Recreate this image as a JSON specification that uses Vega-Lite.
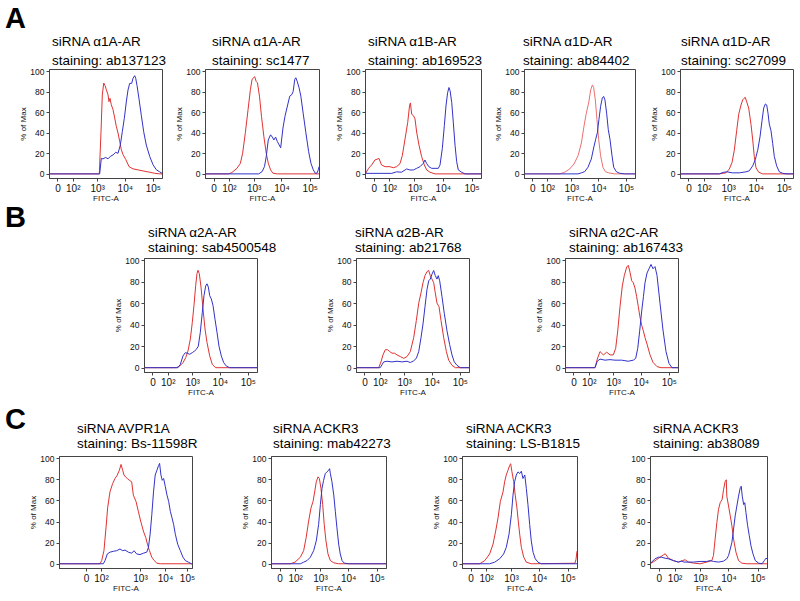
{
"$schema": "https://vega.github.io/schema/vega-lite/v6.json",
"background": "white",
"padding": {"left": 5, "top": 5, "right": 5, "bottom": 5},
"spacing": 0,
"resolve": {"scale": {"color": "independent"}},
"datasets": {"flow": [
{"panel":"A1","trace":"siRNA","fitc":-35,"pct":0},{"panel":"A1","trace":"siRNA","fitc":1200,"pct":0},{"panel":"A1","trace":"siRNA","fitc":1384,"pct":41},{"panel":"A1","trace":"siRNA","fitc":1545,"pct":76.7},{"panel":"A1","trace":"siRNA","fitc":1740,"pct":88.3},{"panel":"A1","trace":"siRNA","fitc":1936,"pct":86},{"panel":"A1","trace":"siRNA","fitc":2160,"pct":81.9},{"panel":"A1","trace":"siRNA","fitc":2488,"pct":77},{"panel":"A1","trace":"siRNA","fitc":2704,"pct":70.2},{"panel":"A1","trace":"siRNA","fitc":2939,"pct":73.5},{"panel":"A1","trace":"siRNA","fitc":3270,"pct":67.3},{"panel":"A1","trace":"siRNA","fitc":3770,"pct":62.5},{"panel":"A1","trace":"siRNA","fitc":4340,"pct":54.4},{"panel":"A1","trace":"siRNA","fitc":4950,"pct":46.3},{"panel":"A1","trace":"siRNA","fitc":5700,"pct":39.8},{"panel":"A1","trace":"siRNA","fitc":6560,"pct":31.7},{"panel":"A1","trace":"siRNA","fitc":7490,"pct":23.6},{"panel":"A1","trace":"siRNA","fitc":8610,"pct":18.8},{"panel":"A1","trace":"siRNA","fitc":10880,"pct":13.9},{"panel":"A1","trace":"siRNA","fitc":14120,"pct":7.1},{"panel":"A1","trace":"siRNA","fitc":19620,"pct":4.9},{"panel":"A1","trace":"siRNA","fitc":29580,"pct":3.9},{"panel":"A1","trace":"siRNA","fitc":44570,"pct":2.9},{"panel":"A1","trace":"siRNA","fitc":77300,"pct":1.6},{"panel":"A1","trace":"siRNA","fitc":116500,"pct":0.6},{"panel":"A1","trace":"siRNA","fitc":176000,"pct":0},{"panel":"A1","trace":"siRNA","fitc":212000,"pct":0},
{"panel":"A1","trace":"control","fitc":-35,"pct":0},{"panel":"A1","trace":"control","fitc":1237,"pct":0},{"panel":"A1","trace":"control","fitc":1420,"pct":15},{"panel":"A1","trace":"control","fitc":1637,"pct":14.6},{"panel":"A1","trace":"control","fitc":2050,"pct":16},{"panel":"A1","trace":"control","fitc":2488,"pct":14.6},{"panel":"A1","trace":"control","fitc":3010,"pct":17},{"panel":"A1","trace":"control","fitc":3770,"pct":18.4},{"panel":"A1","trace":"control","fitc":4720,"pct":21},{"panel":"A1","trace":"control","fitc":5700,"pct":20},{"panel":"A1","trace":"control","fitc":6900,"pct":28},{"panel":"A1","trace":"control","fitc":8130,"pct":41},{"panel":"A1","trace":"control","fitc":9600,"pct":54},{"panel":"A1","trace":"control","fitc":11300,"pct":70},{"panel":"A1","trace":"control","fitc":13000,"pct":81.6},{"panel":"A1","trace":"control","fitc":14950,"pct":88},{"panel":"A1","trace":"control","fitc":17600,"pct":88},{"panel":"A1","trace":"control","fitc":19620,"pct":93},{"panel":"A1","trace":"control","fitc":22550,"pct":95.5},{"panel":"A1","trace":"control","fitc":24500,"pct":93},{"panel":"A1","trace":"control","fitc":27250,"pct":86},{"panel":"A1","trace":"control","fitc":32100,"pct":73},{"panel":"A1","trace":"control","fitc":38800,"pct":57},{"panel":"A1","trace":"control","fitc":47200,"pct":41},{"panel":"A1","trace":"control","fitc":58500,"pct":28},{"panel":"A1","trace":"control","fitc":77300,"pct":17},{"panel":"A1","trace":"control","fitc":101300,"pct":9},{"panel":"A1","trace":"control","fitc":133000,"pct":4},{"panel":"A1","trace":"control","fitc":176000,"pct":2},{"panel":"A1","trace":"control","fitc":212000,"pct":0.6},
{"panel":"A2","trace":"siRNA","fitc":-35,"pct":0},{"panel":"A2","trace":"siRNA","fitc":95,"pct":0},{"panel":"A2","trace":"siRNA","fitc":138,"pct":1.3},{"panel":"A2","trace":"siRNA","fitc":230,"pct":5.5},{"panel":"A2","trace":"siRNA","fitc":313,"pct":10},{"panel":"A2","trace":"siRNA","fitc":386,"pct":20},{"panel":"A2","trace":"siRNA","fitc":492,"pct":40},{"panel":"A2","trace":"siRNA","fitc":623,"pct":62.5},{"panel":"A2","trace":"siRNA","fitc":762,"pct":82},{"panel":"A2","trace":"siRNA","fitc":880,"pct":92},{"panel":"A2","trace":"siRNA","fitc":1100,"pct":94.5},{"panel":"A2","trace":"siRNA","fitc":1240,"pct":90},{"panel":"A2","trace":"siRNA","fitc":1384,"pct":88.6},{"panel":"A2","trace":"siRNA","fitc":1637,"pct":75.6},{"panel":"A2","trace":"siRNA","fitc":1936,"pct":56},{"panel":"A2","trace":"siRNA","fitc":2350,"pct":36.5},{"panel":"A2","trace":"siRNA","fitc":2870,"pct":20},{"panel":"A2","trace":"siRNA","fitc":3390,"pct":10.4},{"panel":"A2","trace":"siRNA","fitc":4096,"pct":3.9},{"panel":"A2","trace":"siRNA","fitc":4950,"pct":0.7},{"panel":"A2","trace":"siRNA","fitc":7100,"pct":0},{"panel":"A2","trace":"siRNA","fitc":212000,"pct":0},
{"panel":"A2","trace":"control","fitc":-35,"pct":0},{"panel":"A2","trace":"control","fitc":1545,"pct":0},{"panel":"A2","trace":"control","fitc":2050,"pct":2.3},{"panel":"A2","trace":"control","fitc":2488,"pct":7.2},{"panel":"A2","trace":"control","fitc":2870,"pct":17},{"panel":"A2","trace":"control","fitc":3390,"pct":33},{"panel":"A2","trace":"control","fitc":4096,"pct":38},{"panel":"A2","trace":"control","fitc":4720,"pct":35.8},{"panel":"A2","trace":"control","fitc":5380,"pct":33},{"panel":"A2","trace":"control","fitc":6192,"pct":35.8},{"panel":"A2","trace":"control","fitc":7100,"pct":31.6},{"panel":"A2","trace":"control","fitc":9350,"pct":25.4},{"panel":"A2","trace":"control","fitc":11300,"pct":44.6},{"panel":"A2","trace":"control","fitc":13300,"pct":56},{"panel":"A2","trace":"control","fitc":16200,"pct":66},{"panel":"A2","trace":"control","fitc":19620,"pct":75.6},{"panel":"A2","trace":"control","fitc":23120,"pct":77},{"panel":"A2","trace":"control","fitc":25800,"pct":80},{"panel":"A2","trace":"control","fitc":29580,"pct":92},{"panel":"A2","trace":"control","fitc":32100,"pct":93.5},{"panel":"A2","trace":"control","fitc":36000,"pct":90},{"panel":"A2","trace":"control","fitc":42000,"pct":83.7},{"panel":"A2","trace":"control","fitc":48400,"pct":75.6},{"panel":"A2","trace":"control","fitc":58500,"pct":59},{"panel":"A2","trace":"control","fitc":72960,"pct":40},{"panel":"A2","trace":"control","fitc":91000,"pct":21.8},{"panel":"A2","trace":"control","fitc":110000,"pct":10.4},{"panel":"A2","trace":"control","fitc":133000,"pct":3.9},{"panel":"A2","trace":"control","fitc":156000,"pct":0.7},{"panel":"A2","trace":"control","fitc":180000,"pct":0.7},{"panel":"A2","trace":"control","fitc":200000,"pct":3.9},{"panel":"A2","trace":"control","fitc":212000,"pct":7},
{"panel":"A3","trace":"siRNA","fitc":-38,"pct":0},{"panel":"A3","trace":"siRNA","fitc":-20,"pct":5.4},{"panel":"A3","trace":"siRNA","fitc":-7,"pct":8.7},{"panel":"A3","trace":"siRNA","fitc":4,"pct":13.5},{"panel":"A3","trace":"siRNA","fitc":21,"pct":15},{"panel":"A3","trace":"siRNA","fitc":35,"pct":8.7},{"panel":"A3","trace":"siRNA","fitc":59,"pct":7},{"panel":"A3","trace":"siRNA","fitc":108,"pct":7},{"panel":"A3","trace":"siRNA","fitc":152,"pct":6},{"panel":"A3","trace":"siRNA","fitc":210,"pct":7},{"panel":"A3","trace":"siRNA","fitc":288,"pct":10},{"panel":"A3","trace":"siRNA","fitc":356,"pct":18},{"panel":"A3","trace":"siRNA","fitc":450,"pct":34},{"panel":"A3","trace":"siRNA","fitc":567,"pct":50},{"panel":"A3","trace":"siRNA","fitc":661,"pct":66},{"panel":"A3","trace":"siRNA","fitc":711,"pct":69},{"panel":"A3","trace":"siRNA","fitc":795,"pct":58},{"panel":"A3","trace":"siRNA","fitc":912,"pct":56.7},{"panel":"A3","trace":"siRNA","fitc":1047,"pct":53.5},{"panel":"A3","trace":"siRNA","fitc":1200,"pct":40.7},{"panel":"A3","trace":"siRNA","fitc":1456,"pct":27.9},{"panel":"A3","trace":"siRNA","fitc":1810,"pct":16.7},{"panel":"A3","trace":"siRNA","fitc":2250,"pct":8.7},{"panel":"A3","trace":"siRNA","fitc":2730,"pct":3.8},{"panel":"A3","trace":"siRNA","fitc":3560,"pct":1.6},{"panel":"A3","trace":"siRNA","fitc":5330,"pct":0},{"panel":"A3","trace":"siRNA","fitc":212000,"pct":0},
{"panel":"A3","trace":"control","fitc":-39,"pct":55},{"panel":"A3","trace":"control","fitc":-36,"pct":0},{"panel":"A3","trace":"control","fitc":-33,"pct":0.5},{"panel":"A3","trace":"control","fitc":129,"pct":0.5},{"panel":"A3","trace":"control","fitc":210,"pct":2},{"panel":"A3","trace":"control","fitc":330,"pct":1.6},{"panel":"A3","trace":"control","fitc":520,"pct":4.8},{"panel":"A3","trace":"control","fitc":680,"pct":3.8},{"panel":"A3","trace":"control","fitc":912,"pct":3.8},{"panel":"A3","trace":"control","fitc":1200,"pct":5.4},{"panel":"A3","trace":"control","fitc":1580,"pct":7},{"panel":"A3","trace":"control","fitc":2070,"pct":10.3},{"panel":"A3","trace":"control","fitc":2370,"pct":13.5},{"panel":"A3","trace":"control","fitc":2730,"pct":10},{"panel":"A3","trace":"control","fitc":3250,"pct":7},{"panel":"A3","trace":"control","fitc":4060,"pct":5.4},{"panel":"A3","trace":"control","fitc":5330,"pct":5.4},{"panel":"A3","trace":"control","fitc":6960,"pct":5.4},{"panel":"A3","trace":"control","fitc":7990,"pct":8.7},{"panel":"A3","trace":"control","fitc":9600,"pct":24.7},{"panel":"A3","trace":"control","fitc":11300,"pct":47},{"panel":"A3","trace":"control","fitc":12880,"pct":66},{"panel":"A3","trace":"control","fitc":14700,"pct":79},{"panel":"A3","trace":"control","fitc":16350,"pct":84},{"panel":"A3","trace":"control","fitc":17900,"pct":80.8},{"panel":"A3","trace":"control","fitc":20400,"pct":69.5},{"panel":"A3","trace":"control","fitc":23120,"pct":50.3},{"panel":"A3","trace":"control","fitc":26600,"pct":27.9},{"panel":"A3","trace":"control","fitc":30300,"pct":11.9},{"panel":"A3","trace":"control","fitc":34600,"pct":3.8},{"panel":"A3","trace":"control","fitc":45200,"pct":1.6},{"panel":"A3","trace":"control","fitc":59000,"pct":0},{"panel":"A3","trace":"control","fitc":212000,"pct":0},
{"panel":"A4","trace":"siRNA","fitc":-35,"pct":0},{"panel":"A4","trace":"siRNA","fitc":353,"pct":0},{"panel":"A4","trace":"siRNA","fitc":558,"pct":1.6},{"panel":"A4","trace":"siRNA","fitc":866,"pct":4.8},{"panel":"A4","trace":"siRNA","fitc":1260,"pct":9.6},{"panel":"A4","trace":"siRNA","fitc":1781,"pct":17.6},{"panel":"A4","trace":"siRNA","fitc":2370,"pct":30},{"panel":"A4","trace":"siRNA","fitc":2960,"pct":46.5},{"panel":"A4","trace":"siRNA","fitc":3590,"pct":59},{"panel":"A4","trace":"siRNA","fitc":4380,"pct":69},{"panel":"A4","trace":"siRNA","fitc":5210,"pct":81.7},{"panel":"A4","trace":"siRNA","fitc":5990,"pct":86.5},{"panel":"A4","trace":"siRNA","fitc":6670,"pct":84},{"panel":"A4","trace":"siRNA","fitc":7680,"pct":72},{"panel":"A4","trace":"siRNA","fitc":8810,"pct":53},{"panel":"A4","trace":"siRNA","fitc":10150,"pct":33.7},{"panel":"A4","trace":"siRNA","fitc":11970,"pct":17.6},{"panel":"A4","trace":"siRNA","fitc":14550,"pct":6.4},{"panel":"A4","trace":"siRNA","fitc":17750,"pct":2.2},{"panel":"A4","trace":"siRNA","fitc":23500,"pct":1},{"panel":"A4","trace":"siRNA","fitc":38800,"pct":0},{"panel":"A4","trace":"siRNA","fitc":212000,"pct":0},
{"panel":"A4","trace":"control","fitc":-35,"pct":0},{"panel":"A4","trace":"control","fitc":1781,"pct":0},{"panel":"A4","trace":"control","fitc":2370,"pct":1},{"panel":"A4","trace":"control","fitc":3140,"pct":2.2},{"panel":"A4","trace":"control","fitc":4130,"pct":6.4},{"panel":"A4","trace":"control","fitc":5470,"pct":14.4},{"panel":"A4","trace":"control","fitc":6900,"pct":27},{"panel":"A4","trace":"control","fitc":7930,"pct":33.7},{"panel":"A4","trace":"control","fitc":9100,"pct":40},{"panel":"A4","trace":"control","fitc":10400,"pct":53},{"panel":"A4","trace":"control","fitc":11970,"pct":65.7},{"panel":"A4","trace":"control","fitc":13780,"pct":73.7},{"panel":"A4","trace":"control","fitc":15450,"pct":75.3},{"panel":"A4","trace":"control","fitc":17200,"pct":72},{"panel":"A4","trace":"control","fitc":19800,"pct":59},{"panel":"A4","trace":"control","fitc":22750,"pct":43},{"panel":"A4","trace":"control","fitc":26200,"pct":33.7},{"panel":"A4","trace":"control","fitc":31100,"pct":17.6},{"panel":"A4","trace":"control","fitc":35800,"pct":6.4},{"panel":"A4","trace":"control","fitc":44570,"pct":2.2},{"panel":"A4","trace":"control","fitc":59000,"pct":0.6},{"panel":"A4","trace":"control","fitc":89500,"pct":0},{"panel":"A4","trace":"control","fitc":212000,"pct":0},
{"panel":"A5","trace":"siRNA","fitc":-35,"pct":0},{"panel":"A5","trace":"siRNA","fitc":462,"pct":0},{"panel":"A5","trace":"siRNA","fitc":830,"pct":1},{"panel":"A5","trace":"siRNA","fitc":1100,"pct":4.7},{"panel":"A5","trace":"siRNA","fitc":1384,"pct":11},{"panel":"A5","trace":"siRNA","fitc":1680,"pct":23},{"panel":"A5","trace":"siRNA","fitc":2050,"pct":42},{"panel":"A5","trace":"siRNA","fitc":2430,"pct":58},{"panel":"A5","trace":"siRNA","fitc":2939,"pct":67},{"panel":"A5","trace":"siRNA","fitc":3390,"pct":72},{"panel":"A5","trace":"siRNA","fitc":3770,"pct":73.5},{"panel":"A5","trace":"siRNA","fitc":4190,"pct":74.4},{"panel":"A5","trace":"siRNA","fitc":4720,"pct":70},{"panel":"A5","trace":"siRNA","fitc":5560,"pct":64},{"panel":"A5","trace":"siRNA","fitc":6726,"pct":48},{"panel":"A5","trace":"siRNA","fitc":7750,"pct":33},{"panel":"A5","trace":"siRNA","fitc":8810,"pct":17},{"panel":"A5","trace":"siRNA","fitc":10150,"pct":6},{"panel":"A5","trace":"siRNA","fitc":12700,"pct":1.6},{"panel":"A5","trace":"siRNA","fitc":17600,"pct":0},{"panel":"A5","trace":"siRNA","fitc":212000,"pct":0},
{"panel":"A5","trace":"control","fitc":-35,"pct":0},{"panel":"A5","trace":"control","fitc":462,"pct":0},{"panel":"A5","trace":"control","fitc":656,"pct":1.5},{"panel":"A5","trace":"control","fitc":880,"pct":2},{"panel":"A5","trace":"control","fitc":1470,"pct":1},{"panel":"A5","trace":"control","fitc":2550,"pct":1},{"panel":"A5","trace":"control","fitc":4450,"pct":2},{"panel":"A5","trace":"control","fitc":5850,"pct":3},{"panel":"A5","trace":"control","fitc":7750,"pct":7.8},{"panel":"A5","trace":"control","fitc":9600,"pct":14},{"panel":"A5","trace":"control","fitc":11670,"pct":23},{"panel":"A5","trace":"control","fitc":14120,"pct":36},{"panel":"A5","trace":"control","fitc":16640,"pct":51.6},{"panel":"A5","trace":"control","fitc":19100,"pct":64},{"panel":"A5","trace":"control","fitc":21950,"pct":68},{"panel":"A5","trace":"control","fitc":24500,"pct":67},{"panel":"A5","trace":"control","fitc":27250,"pct":59},{"panel":"A5","trace":"control","fitc":30300,"pct":48.4},{"panel":"A5","trace":"control","fitc":34840,"pct":42},{"panel":"A5","trace":"control","fitc":40000,"pct":29.7},{"panel":"A5","trace":"control","fitc":45700,"pct":17},{"panel":"A5","trace":"control","fitc":55500,"pct":7.8},{"panel":"A5","trace":"control","fitc":69000,"pct":2},{"panel":"A5","trace":"control","fitc":91000,"pct":0.6},{"panel":"A5","trace":"control","fitc":119400,"pct":0},{"panel":"A5","trace":"control","fitc":212000,"pct":0},
{"panel":"B1","trace":"siRNA","fitc":-35,"pct":0},{"panel":"B1","trace":"siRNA","fitc":243,"pct":0},{"panel":"B1","trace":"siRNA","fitc":335,"pct":1.6},{"panel":"B1","trace":"siRNA","fitc":450,"pct":4.7},{"panel":"B1","trace":"siRNA","fitc":572,"pct":9.4},{"panel":"B1","trace":"siRNA","fitc":698,"pct":15.6},{"panel":"B1","trace":"siRNA","fitc":855,"pct":26.6},{"panel":"B1","trace":"siRNA","fitc":1010,"pct":42},{"panel":"B1","trace":"siRNA","fitc":1168,"pct":58},{"panel":"B1","trace":"siRNA","fitc":1350,"pct":76.6},{"panel":"B1","trace":"siRNA","fitc":1505,"pct":87.5},{"panel":"B1","trace":"siRNA","fitc":1637,"pct":90.6},{"panel":"B1","trace":"siRNA","fitc":1825,"pct":87.5},{"panel":"B1","trace":"siRNA","fitc":2106,"pct":75},{"panel":"B1","trace":"siRNA","fitc":2488,"pct":54.7},{"panel":"B1","trace":"siRNA","fitc":2939,"pct":36},{"panel":"B1","trace":"siRNA","fitc":3470,"pct":23.4},{"panel":"B1","trace":"siRNA","fitc":4340,"pct":11},{"panel":"B1","trace":"siRNA","fitc":5380,"pct":3},{"panel":"B1","trace":"siRNA","fitc":7100,"pct":0},{"panel":"B1","trace":"siRNA","fitc":212000,"pct":0},
{"panel":"B1","trace":"control","fitc":-35,"pct":0},{"panel":"B1","trace":"control","fitc":285,"pct":0},{"panel":"B1","trace":"control","fitc":353,"pct":3},{"panel":"B1","trace":"control","fitc":450,"pct":11},{"panel":"B1","trace":"control","fitc":553,"pct":14},{"panel":"B1","trace":"control","fitc":656,"pct":13.4},{"panel":"B1","trace":"control","fitc":808,"pct":12.5},{"panel":"B1","trace":"control","fitc":1010,"pct":14},{"panel":"B1","trace":"control","fitc":1237,"pct":15.6},{"panel":"B1","trace":"control","fitc":1420,"pct":17},{"panel":"B1","trace":"control","fitc":1680,"pct":20},{"panel":"B1","trace":"control","fitc":1990,"pct":33},{"panel":"B1","trace":"control","fitc":2350,"pct":51.6},{"panel":"B1","trace":"control","fitc":2704,"pct":67},{"panel":"B1","trace":"control","fitc":3110,"pct":76},{"panel":"B1","trace":"control","fitc":3470,"pct":78},{"panel":"B1","trace":"control","fitc":3870,"pct":75},{"panel":"B1","trace":"control","fitc":4340,"pct":67},{"panel":"B1","trace":"control","fitc":4950,"pct":64},{"panel":"B1","trace":"control","fitc":5700,"pct":58},{"panel":"B1","trace":"control","fitc":6726,"pct":45},{"panel":"B1","trace":"control","fitc":7930,"pct":33},{"panel":"B1","trace":"control","fitc":9350,"pct":20},{"panel":"B1","trace":"control","fitc":11300,"pct":11},{"panel":"B1","trace":"control","fitc":13780,"pct":4.7},{"panel":"B1","trace":"control","fitc":17000,"pct":1.6},{"panel":"B1","trace":"control","fitc":22550,"pct":0},{"panel":"B1","trace":"control","fitc":212000,"pct":0},
{"panel":"B2","trace":"siRNA","fitc":-34,"pct":0},{"panel":"B2","trace":"siRNA","fitc":89,"pct":0},{"panel":"B2","trace":"siRNA","fitc":115,"pct":5.4},{"panel":"B2","trace":"siRNA","fitc":143,"pct":11.9},{"panel":"B2","trace":"siRNA","fitc":181,"pct":16.7},{"panel":"B2","trace":"siRNA","fitc":228,"pct":16.7},{"panel":"B2","trace":"siRNA","fitc":276,"pct":15},{"panel":"B2","trace":"siRNA","fitc":343,"pct":13.5},{"panel":"B2","trace":"siRNA","fitc":425,"pct":13.5},{"panel":"B2","trace":"siRNA","fitc":538,"pct":11.9},{"panel":"B2","trace":"siRNA","fitc":718,"pct":10.3},{"panel":"B2","trace":"siRNA","fitc":960,"pct":8.7},{"panel":"B2","trace":"siRNA","fitc":1271,"pct":10.3},{"panel":"B2","trace":"siRNA","fitc":1680,"pct":15},{"panel":"B2","trace":"siRNA","fitc":2230,"pct":27.9},{"panel":"B2","trace":"siRNA","fitc":2780,"pct":43.9},{"panel":"B2","trace":"siRNA","fitc":3390,"pct":60},{"panel":"B2","trace":"siRNA","fitc":4096,"pct":69.6},{"panel":"B2","trace":"siRNA","fitc":4834,"pct":79},{"panel":"B2","trace":"siRNA","fitc":5700,"pct":85.6},{"panel":"B2","trace":"siRNA","fitc":6726,"pct":89.4},{"panel":"B2","trace":"siRNA","fitc":7750,"pct":90.4},{"panel":"B2","trace":"siRNA","fitc":8810,"pct":85.6},{"panel":"B2","trace":"siRNA","fitc":10150,"pct":82.4},{"panel":"B2","trace":"siRNA","fitc":11670,"pct":79},{"panel":"B2","trace":"siRNA","fitc":13300,"pct":69.6},{"panel":"B2","trace":"siRNA","fitc":15330,"pct":60},{"panel":"B2","trace":"siRNA","fitc":18070,"pct":56.7},{"panel":"B2","trace":"siRNA","fitc":21300,"pct":43.9},{"panel":"B2","trace":"siRNA","fitc":26600,"pct":27.9},{"panel":"B2","trace":"siRNA","fitc":33100,"pct":15},{"panel":"B2","trace":"siRNA","fitc":40000,"pct":7},{"panel":"B2","trace":"siRNA","fitc":52520,"pct":2.2},{"panel":"B2","trace":"siRNA","fitc":69000,"pct":0},{"panel":"B2","trace":"siRNA","fitc":212000,"pct":0},
{"panel":"B2","trace":"control","fitc":-34,"pct":0},{"panel":"B2","trace":"control","fitc":106,"pct":0},{"panel":"B2","trace":"control","fitc":154,"pct":5.4},{"panel":"B2","trace":"control","fitc":214,"pct":6},{"panel":"B2","trace":"control","fitc":343,"pct":5.4},{"panel":"B2","trace":"control","fitc":538,"pct":6},{"panel":"B2","trace":"control","fitc":830,"pct":5.4},{"panel":"B2","trace":"control","fitc":1271,"pct":6},{"panel":"B2","trace":"control","fitc":1680,"pct":4.8},{"panel":"B2","trace":"control","fitc":2230,"pct":6.4},{"panel":"B2","trace":"control","fitc":2780,"pct":8.7},{"panel":"B2","trace":"control","fitc":3390,"pct":15},{"panel":"B2","trace":"control","fitc":4096,"pct":27.9},{"panel":"B2","trace":"control","fitc":4834,"pct":40.7},{"panel":"B2","trace":"control","fitc":5700,"pct":56.7},{"panel":"B2","trace":"control","fitc":6726,"pct":72.8},{"panel":"B2","trace":"control","fitc":7750,"pct":80.8},{"panel":"B2","trace":"control","fitc":8810,"pct":82.4},{"panel":"B2","trace":"control","fitc":10150,"pct":87},{"panel":"B2","trace":"control","fitc":11670,"pct":90.4},{"panel":"B2","trace":"control","fitc":13300,"pct":85.6},{"panel":"B2","trace":"control","fitc":15330,"pct":82.4},{"panel":"B2","trace":"control","fitc":17000,"pct":85.6},{"panel":"B2","trace":"control","fitc":19100,"pct":80.8},{"panel":"B2","trace":"control","fitc":23120,"pct":66},{"panel":"B2","trace":"control","fitc":27950,"pct":50.3},{"panel":"B2","trace":"control","fitc":34840,"pct":34.3},{"panel":"B2","trace":"control","fitc":43300,"pct":21.5},{"panel":"B2","trace":"control","fitc":52520,"pct":11.9},{"panel":"B2","trace":"control","fitc":63300,"pct":5.4},{"panel":"B2","trace":"control","fitc":79200,"pct":2.2},{"panel":"B2","trace":"control","fitc":104000,"pct":0},{"panel":"B2","trace":"control","fitc":212000,"pct":0},
{"panel":"B3","trace":"siRNA","fitc":-35,"pct":0},{"panel":"B3","trace":"siRNA","fitc":194,"pct":0},{"panel":"B3","trace":"siRNA","fitc":243,"pct":8},{"panel":"B3","trace":"siRNA","fitc":313,"pct":15},{"panel":"B3","trace":"siRNA","fitc":425,"pct":11.9},{"panel":"B3","trace":"siRNA","fitc":572,"pct":14.4},{"panel":"B3","trace":"siRNA","fitc":762,"pct":11.9},{"panel":"B3","trace":"siRNA","fitc":1010,"pct":11.9},{"panel":"B3","trace":"siRNA","fitc":1237,"pct":18},{"panel":"B3","trace":"siRNA","fitc":1470,"pct":34},{"panel":"B3","trace":"siRNA","fitc":1781,"pct":56.7},{"panel":"B3","trace":"siRNA","fitc":2160,"pct":76},{"panel":"B3","trace":"siRNA","fitc":2550,"pct":85.6},{"panel":"B3","trace":"siRNA","fitc":3110,"pct":93.6},{"panel":"B3","trace":"siRNA","fitc":3560,"pct":95.2},{"panel":"B3","trace":"siRNA","fitc":4096,"pct":88.8},{"panel":"B3","trace":"siRNA","fitc":4720,"pct":80.8},{"panel":"B3","trace":"siRNA","fitc":5380,"pct":79},{"panel":"B3","trace":"siRNA","fitc":6192,"pct":74},{"panel":"B3","trace":"siRNA","fitc":7100,"pct":66},{"panel":"B3","trace":"siRNA","fitc":8130,"pct":56.7},{"panel":"B3","trace":"siRNA","fitc":9350,"pct":47},{"panel":"B3","trace":"siRNA","fitc":10850,"pct":39},{"panel":"B3","trace":"siRNA","fitc":12400,"pct":34},{"panel":"B3","trace":"siRNA","fitc":14120,"pct":28},{"panel":"B3","trace":"siRNA","fitc":16640,"pct":22},{"panel":"B3","trace":"siRNA","fitc":21300,"pct":12},{"panel":"B3","trace":"siRNA","fitc":27250,"pct":5},{"panel":"B3","trace":"siRNA","fitc":37820,"pct":1},{"panel":"B3","trace":"siRNA","fitc":52520,"pct":0},{"panel":"B3","trace":"siRNA","fitc":212000,"pct":0},
{"panel":"B3","trace":"control","fitc":-35,"pct":0},{"panel":"B3","trace":"control","fitc":194,"pct":0},{"panel":"B3","trace":"control","fitc":243,"pct":6},{"panel":"B3","trace":"control","fitc":313,"pct":8},{"panel":"B3","trace":"control","fitc":492,"pct":7},{"panel":"B3","trace":"control","fitc":762,"pct":7.5},{"panel":"B3","trace":"control","fitc":1168,"pct":7},{"panel":"B3","trace":"control","fitc":2050,"pct":7},{"panel":"B3","trace":"control","fitc":3560,"pct":6},{"panel":"B3","trace":"control","fitc":5380,"pct":7},{"panel":"B3","trace":"control","fitc":6560,"pct":8.7},{"panel":"B3","trace":"control","fitc":7750,"pct":18},{"panel":"B3","trace":"control","fitc":9100,"pct":34},{"panel":"B3","trace":"control","fitc":10850,"pct":53.5},{"panel":"B3","trace":"control","fitc":12400,"pct":66},{"panel":"B3","trace":"control","fitc":14120,"pct":79},{"panel":"B3","trace":"control","fitc":16640,"pct":88},{"panel":"B3","trace":"control","fitc":19620,"pct":92},{"panel":"B3","trace":"control","fitc":23120,"pct":96},{"panel":"B3","trace":"control","fitc":27250,"pct":92},{"panel":"B3","trace":"control","fitc":32100,"pct":94},{"panel":"B3","trace":"control","fitc":37820,"pct":86},{"panel":"B3","trace":"control","fitc":48400,"pct":60},{"panel":"B3","trace":"control","fitc":61900,"pct":35},{"panel":"B3","trace":"control","fitc":79200,"pct":15},{"panel":"B3","trace":"control","fitc":101300,"pct":4},{"panel":"B3","trace":"control","fitc":129600,"pct":0},{"panel":"B3","trace":"control","fitc":212000,"pct":0},
{"panel":"C1","trace":"siRNA","fitc":-190,"pct":0},{"panel":"C1","trace":"siRNA","fitc":89,"pct":0},{"panel":"C1","trace":"siRNA","fitc":105,"pct":3},{"panel":"C1","trace":"siRNA","fitc":123,"pct":12.4},{"panel":"C1","trace":"siRNA","fitc":141,"pct":34},{"panel":"C1","trace":"siRNA","fitc":157,"pct":53},{"panel":"C1","trace":"siRNA","fitc":182,"pct":68},{"panel":"C1","trace":"siRNA","fitc":215,"pct":76},{"panel":"C1","trace":"siRNA","fitc":248,"pct":80.7},{"panel":"C1","trace":"siRNA","fitc":284,"pct":84},{"panel":"C1","trace":"siRNA","fitc":320,"pct":88.5},{"panel":"C1","trace":"siRNA","fitc":352,"pct":94},{"panel":"C1","trace":"siRNA","fitc":387,"pct":88.5},{"panel":"C1","trace":"siRNA","fitc":417,"pct":84},{"panel":"C1","trace":"siRNA","fitc":458,"pct":82},{"panel":"C1","trace":"siRNA","fitc":502,"pct":80.7},{"panel":"C1","trace":"siRNA","fitc":561,"pct":79},{"panel":"C1","trace":"siRNA","fitc":638,"pct":77.6},{"panel":"C1","trace":"siRNA","fitc":698,"pct":65},{"panel":"C1","trace":"siRNA","fitc":806,"pct":59},{"panel":"C1","trace":"siRNA","fitc":914,"pct":49.7},{"panel":"C1","trace":"siRNA","fitc":1065,"pct":40.4},{"panel":"C1","trace":"siRNA","fitc":1372,"pct":31},{"panel":"C1","trace":"siRNA","fitc":1712,"pct":24.8},{"panel":"C1","trace":"siRNA","fitc":2000,"pct":18.6},{"panel":"C1","trace":"siRNA","fitc":2412,"pct":12.4},{"panel":"C1","trace":"siRNA","fitc":3000,"pct":6.2},{"panel":"C1","trace":"siRNA","fitc":3727,"pct":3},{"panel":"C1","trace":"siRNA","fitc":4773,"pct":0.6},{"panel":"C1","trace":"siRNA","fitc":6500,"pct":0},{"panel":"C1","trace":"siRNA","fitc":200000,"pct":0},
{"panel":"C1","trace":"control","fitc":-190,"pct":0},{"panel":"C1","trace":"control","fitc":118,"pct":0},{"panel":"C1","trace":"control","fitc":132,"pct":3},{"panel":"C1","trace":"control","fitc":154,"pct":9.3},{"panel":"C1","trace":"control","fitc":182,"pct":11},{"panel":"C1","trace":"control","fitc":224,"pct":11.8},{"panel":"C1","trace":"control","fitc":273,"pct":12.4},{"panel":"C1","trace":"control","fitc":332,"pct":14},{"panel":"C1","trace":"control","fitc":387,"pct":12.4},{"panel":"C1","trace":"control","fitc":441,"pct":13},{"panel":"C1","trace":"control","fitc":531,"pct":11},{"panel":"C1","trace":"control","fitc":638,"pct":10},{"panel":"C1","trace":"control","fitc":724,"pct":12.4},{"panel":"C1","trace":"control","fitc":837,"pct":9.3},{"panel":"C1","trace":"control","fitc":1000,"pct":8.7},{"panel":"C1","trace":"control","fitc":1372,"pct":10},{"panel":"C1","trace":"control","fitc":1880,"pct":11},{"panel":"C1","trace":"control","fitc":2197,"pct":15.5},{"panel":"C1","trace":"control","fitc":2566,"pct":28},{"panel":"C1","trace":"control","fitc":3000,"pct":46.6},{"panel":"C1","trace":"control","fitc":3500,"pct":68},{"panel":"C1","trace":"control","fitc":4090,"pct":84},{"panel":"C1","trace":"control","fitc":4773,"pct":88.5},{"panel":"C1","trace":"control","fitc":5570,"pct":93},{"panel":"C1","trace":"control","fitc":6108,"pct":95},{"panel":"C1","trace":"control","fitc":6908,"pct":84},{"panel":"C1","trace":"control","fitc":7816,"pct":79},{"panel":"C1","trace":"control","fitc":8832,"pct":80.7},{"panel":"C1","trace":"control","fitc":10350,"pct":73},{"panel":"C1","trace":"control","fitc":12330,"pct":65},{"panel":"C1","trace":"control","fitc":14680,"pct":59},{"panel":"C1","trace":"control","fitc":17480,"pct":49.7},{"panel":"C1","trace":"control","fitc":20820,"pct":43.5},{"panel":"C1","trace":"control","fitc":24780,"pct":37},{"panel":"C1","trace":"control","fitc":29500,"pct":28},{"panel":"C1","trace":"control","fitc":37680,"pct":18.6},{"panel":"C1","trace":"control","fitc":49760,"pct":12.4},{"panel":"C1","trace":"control","fitc":65800,"pct":6.2},{"panel":"C1","trace":"control","fitc":84000,"pct":3},{"panel":"C1","trace":"control","fitc":122600,"pct":1.5},{"panel":"C1","trace":"control","fitc":184400,"pct":0},{"panel":"C1","trace":"control","fitc":200000,"pct":0},
{"panel":"C2","trace":"siRNA","fitc":-34,"pct":0},{"panel":"C2","trace":"siRNA","fitc":55,"pct":0},{"panel":"C2","trace":"siRNA","fitc":98,"pct":1.5},{"panel":"C2","trace":"siRNA","fitc":173,"pct":6.2},{"panel":"C2","trace":"siRNA","fitc":238,"pct":12.4},{"panel":"C2","trace":"siRNA","fitc":300,"pct":24.8},{"panel":"C2","trace":"siRNA","fitc":376,"pct":40.4},{"panel":"C2","trace":"siRNA","fitc":462,"pct":52.8},{"panel":"C2","trace":"siRNA","fitc":553,"pct":59},{"panel":"C2","trace":"siRNA","fitc":635,"pct":68},{"panel":"C2","trace":"siRNA","fitc":730,"pct":77.6},{"panel":"C2","trace":"siRNA","fitc":845,"pct":82.3},{"panel":"C2","trace":"siRNA","fitc":946,"pct":80.7},{"panel":"C2","trace":"siRNA","fitc":1082,"pct":71.4},{"panel":"C2","trace":"siRNA","fitc":1250,"pct":56},{"panel":"C2","trace":"siRNA","fitc":1420,"pct":37.3},{"panel":"C2","trace":"siRNA","fitc":1637,"pct":21.7},{"panel":"C2","trace":"siRNA","fitc":1936,"pct":9.3},{"panel":"C2","trace":"siRNA","fitc":2350,"pct":3},{"panel":"C2","trace":"siRNA","fitc":3110,"pct":0.9},{"panel":"C2","trace":"siRNA","fitc":4630,"pct":0},{"panel":"C2","trace":"siRNA","fitc":212000,"pct":0},
{"panel":"C2","trace":"control","fitc":-34,"pct":0},{"panel":"C2","trace":"control","fitc":173,"pct":0},{"panel":"C2","trace":"control","fitc":238,"pct":1.5},{"panel":"C2","trace":"control","fitc":325,"pct":3},{"panel":"C2","trace":"control","fitc":435,"pct":6.2},{"panel":"C2","trace":"control","fitc":582,"pct":12.4},{"panel":"C2","trace":"control","fitc":730,"pct":21.7},{"panel":"C2","trace":"control","fitc":890,"pct":37.3},{"panel":"C2","trace":"control","fitc":1030,"pct":56},{"panel":"C2","trace":"control","fitc":1180,"pct":71.4},{"panel":"C2","trace":"control","fitc":1350,"pct":79},{"panel":"C2","trace":"control","fitc":1550,"pct":85.4},{"panel":"C2","trace":"control","fitc":1781,"pct":87},{"panel":"C2","trace":"control","fitc":2050,"pct":88.5},{"panel":"C2","trace":"control","fitc":2210,"pct":90},{"panel":"C2","trace":"control","fitc":2350,"pct":85.4},{"panel":"C2","trace":"control","fitc":2680,"pct":77.6},{"panel":"C2","trace":"control","fitc":3110,"pct":65},{"panel":"C2","trace":"control","fitc":3530,"pct":49.7},{"panel":"C2","trace":"control","fitc":4030,"pct":34},{"panel":"C2","trace":"control","fitc":4630,"pct":18.6},{"panel":"C2","trace":"control","fitc":5280,"pct":9.3},{"panel":"C2","trace":"control","fitc":6100,"pct":3},{"panel":"C2","trace":"control","fitc":7300,"pct":0.6},{"panel":"C2","trace":"control","fitc":10400,"pct":0},{"panel":"C2","trace":"control","fitc":212000,"pct":0},
{"panel":"C3","trace":"siRNA","fitc":-34,"pct":0},{"panel":"C3","trace":"siRNA","fitc":44,"pct":0},{"panel":"C3","trace":"siRNA","fitc":85,"pct":3},{"panel":"C3","trace":"siRNA","fitc":146,"pct":9.3},{"panel":"C3","trace":"siRNA","fitc":204,"pct":18.6},{"panel":"C3","trace":"siRNA","fitc":262,"pct":31},{"panel":"C3","trace":"siRNA","fitc":325,"pct":43.5},{"panel":"C3","trace":"siRNA","fitc":400,"pct":59},{"panel":"C3","trace":"siRNA","fitc":506,"pct":68},{"panel":"C3","trace":"siRNA","fitc":582,"pct":77.6},{"panel":"C3","trace":"siRNA","fitc":668,"pct":84},{"panel":"C3","trace":"siRNA","fitc":775,"pct":88.5},{"panel":"C3","trace":"siRNA","fitc":890,"pct":93},{"panel":"C3","trace":"siRNA","fitc":970,"pct":94.7},{"panel":"C3","trace":"siRNA","fitc":1082,"pct":87},{"panel":"C3","trace":"siRNA","fitc":1250,"pct":77.6},{"panel":"C3","trace":"siRNA","fitc":1420,"pct":65},{"panel":"C3","trace":"siRNA","fitc":1637,"pct":52.8},{"panel":"C3","trace":"siRNA","fitc":1825,"pct":40.4},{"panel":"C3","trace":"siRNA","fitc":2050,"pct":28},{"panel":"C3","trace":"siRNA","fitc":2350,"pct":15.5},{"panel":"C3","trace":"siRNA","fitc":2860,"pct":6.2},{"panel":"C3","trace":"siRNA","fitc":3530,"pct":1.5},{"panel":"C3","trace":"siRNA","fitc":5280,"pct":0},{"panel":"C3","trace":"siRNA","fitc":180000,"pct":0.5},{"panel":"C3","trace":"siRNA","fitc":195300,"pct":4},{"panel":"C3","trace":"siRNA","fitc":212000,"pct":12},
{"panel":"C3","trace":"control","fitc":-34,"pct":0},{"panel":"C3","trace":"control","fitc":146,"pct":0},{"panel":"C3","trace":"control","fitc":238,"pct":1.5},{"panel":"C3","trace":"control","fitc":376,"pct":4.7},{"panel":"C3","trace":"control","fitc":534,"pct":9.3},{"panel":"C3","trace":"control","fitc":668,"pct":15.5},{"panel":"C3","trace":"control","fitc":845,"pct":28},{"panel":"C3","trace":"control","fitc":1030,"pct":46.6},{"panel":"C3","trace":"control","fitc":1180,"pct":65},{"panel":"C3","trace":"control","fitc":1350,"pct":77.6},{"panel":"C3","trace":"control","fitc":1550,"pct":84},{"panel":"C3","trace":"control","fitc":1781,"pct":87},{"panel":"C3","trace":"control","fitc":2050,"pct":85.4},{"panel":"C3","trace":"control","fitc":2350,"pct":87.6},{"panel":"C3","trace":"control","fitc":2680,"pct":80.7},{"panel":"C3","trace":"control","fitc":3110,"pct":84},{"panel":"C3","trace":"control","fitc":3530,"pct":71.4},{"panel":"C3","trace":"control","fitc":4030,"pct":56},{"panel":"C3","trace":"control","fitc":4630,"pct":37.3},{"panel":"C3","trace":"control","fitc":5280,"pct":21.7},{"panel":"C3","trace":"control","fitc":6100,"pct":10.9},{"panel":"C3","trace":"control","fitc":7300,"pct":4.7},{"panel":"C3","trace":"control","fitc":9100,"pct":1.5},{"panel":"C3","trace":"control","fitc":11900,"pct":0},{"panel":"C3","trace":"control","fitc":212000,"pct":0},
{"panel":"C4","trace":"siRNA","fitc":-35,"pct":0.5},{"panel":"C4","trace":"siRNA","fitc":-20,"pct":2},{"panel":"C4","trace":"siRNA","fitc":-7,"pct":4},{"panel":"C4","trace":"siRNA","fitc":4,"pct":6.2},{"panel":"C4","trace":"siRNA","fitc":18,"pct":8.4},{"panel":"C4","trace":"siRNA","fitc":27,"pct":9.5},{"panel":"C4","trace":"siRNA","fitc":46,"pct":5.3},{"panel":"C4","trace":"siRNA","fitc":88,"pct":3},{"panel":"C4","trace":"siRNA","fitc":149,"pct":1.6},{"panel":"C4","trace":"siRNA","fitc":227,"pct":3.1},{"panel":"C4","trace":"siRNA","fitc":282,"pct":3.8},{"panel":"C4","trace":"siRNA","fitc":380,"pct":1.6},{"panel":"C4","trace":"siRNA","fitc":587,"pct":0.6},{"panel":"C4","trace":"siRNA","fitc":1020,"pct":0},{"panel":"C4","trace":"siRNA","fitc":1765,"pct":1.6},{"panel":"C4","trace":"siRNA","fitc":2640,"pct":3},{"panel":"C4","trace":"siRNA","fitc":3010,"pct":7.8},{"panel":"C4","trace":"siRNA","fitc":3440,"pct":23.4},{"panel":"C4","trace":"siRNA","fitc":3950,"pct":39},{"panel":"C4","trace":"siRNA","fitc":4520,"pct":51.6},{"panel":"C4","trace":"siRNA","fitc":5160,"pct":57.8},{"panel":"C4","trace":"siRNA","fitc":6050,"pct":61},{"panel":"C4","trace":"siRNA","fitc":6726,"pct":70},{"panel":"C4","trace":"siRNA","fitc":7680,"pct":78},{"panel":"C4","trace":"siRNA","fitc":8400,"pct":79.5},{"panel":"C4","trace":"siRNA","fitc":8740,"pct":64},{"panel":"C4","trace":"siRNA","fitc":10050,"pct":54.7},{"panel":"C4","trace":"siRNA","fitc":11500,"pct":45.3},{"panel":"C4","trace":"siRNA","fitc":13100,"pct":36},{"panel":"C4","trace":"siRNA","fitc":14950,"pct":23.4},{"panel":"C4","trace":"siRNA","fitc":18070,"pct":11},{"panel":"C4","trace":"siRNA","fitc":22200,"pct":3},{"panel":"C4","trace":"siRNA","fitc":28800,"pct":0.6},{"panel":"C4","trace":"siRNA","fitc":43000,"pct":0},{"panel":"C4","trace":"siRNA","fitc":212000,"pct":0},
{"panel":"C4","trace":"control","fitc":-35,"pct":0.5},{"panel":"C4","trace":"control","fitc":-30,"pct":1.6},{"panel":"C4","trace":"control","fitc":-14,"pct":4.7},{"panel":"C4","trace":"control","fitc":-1,"pct":6.2},{"panel":"C4","trace":"control","fitc":10,"pct":6.2},{"panel":"C4","trace":"control","fitc":26,"pct":5.3},{"panel":"C4","trace":"control","fitc":46,"pct":4.7},{"panel":"C4","trace":"control","fitc":88,"pct":3},{"panel":"C4","trace":"control","fitc":149,"pct":1.6},{"panel":"C4","trace":"control","fitc":208,"pct":2.5},{"panel":"C4","trace":"control","fitc":256,"pct":1.6},{"panel":"C4","trace":"control","fitc":587,"pct":1.6},{"panel":"C4","trace":"control","fitc":1020,"pct":2.2},{"panel":"C4","trace":"control","fitc":1765,"pct":2.2},{"panel":"C4","trace":"control","fitc":2310,"pct":3},{"panel":"C4","trace":"control","fitc":3010,"pct":2.2},{"panel":"C4","trace":"control","fitc":4520,"pct":1.6},{"panel":"C4","trace":"control","fitc":6726,"pct":2.5},{"panel":"C4","trace":"control","fitc":8740,"pct":4.7},{"panel":"C4","trace":"control","fitc":10050,"pct":7.8},{"panel":"C4","trace":"control","fitc":11500,"pct":14},{"panel":"C4","trace":"control","fitc":13100,"pct":20.3},{"panel":"C4","trace":"control","fitc":14950,"pct":32.8},{"panel":"C4","trace":"control","fitc":17000,"pct":45.3},{"panel":"C4","trace":"control","fitc":19450,"pct":54.7},{"panel":"C4","trace":"control","fitc":22200,"pct":64},{"panel":"C4","trace":"control","fitc":25500,"pct":72},{"panel":"C4","trace":"control","fitc":27500,"pct":73.4},{"panel":"C4","trace":"control","fitc":29800,"pct":64},{"panel":"C4","trace":"control","fitc":33400,"pct":56},{"panel":"C4","trace":"control","fitc":36400,"pct":57.8},{"panel":"C4","trace":"control","fitc":40000,"pct":48.4},{"panel":"C4","trace":"control","fitc":45700,"pct":36},{"panel":"C4","trace":"control","fitc":52100,"pct":26.6},{"panel":"C4","trace":"control","fitc":59500,"pct":17},{"panel":"C4","trace":"control","fitc":69700,"pct":9.4},{"panel":"C4","trace":"control","fitc":84000,"pct":3},{"panel":"C4","trace":"control","fitc":109000,"pct":0.6},{"panel":"C4","trace":"control","fitc":143000,"pct":0},{"panel":"C4","trace":"control","fitc":172000,"pct":3},{"panel":"C4","trace":"control","fitc":195300,"pct":5.3},{"panel":"C4","trace":"control","fitc":212000,"pct":4.7}
]},
"vconcat": [
{"bounds": "flush", "spacing": 0, "resolve": {"scale": {"color": "independent"}}, "hconcat": [
{"width":44,"height":135,"data":{"values":[]},"mark":"text","encoding":{},"view":{"stroke":null},"title":{"text":"A","fontSize":29,"fontWeight":"bold","offset":35}},
{"width":113,"height":109,"data":{"name":"flow"},"transform":[{"filter":"datum.panel === 'A1'"}],"title":{"text":["siRNA α1A-AR","staining: ab137123"],"dx":3,"offset":0,"lineHeight":19},"mark":{"type":"line","strokeWidth":1,"clip":true},"encoding":{"x":{"field":"fitc","type":"quantitative","scale":{"type":"symlog","constant":40,"domain":[-40,212000],"nice":false,"zero":false},"axis":{"values":[0,100,1000,10000,100000],"labelExpr":"datum.value == 0 ? '0' : datum.value == 100 ? '10²' : datum.value == 1000 ? '10³' : datum.value == 10000 ? '10⁴' : '10⁵'","title":"FITC-A"}},"y":{"field":"pct","type":"quantitative","scale":{"domain":[-4,102],"nice":false,"zero":false},"axis":{"values":[0,20,40,60,80,100],"title":"% of Max"}},"color":{"field":"trace","type":"nominal","scale":{"domain":["siRNA","control"],"range":["#e03232","#3232c8"]},"legend":null}}},
{"width":43,"height":109,"data":{"values":[]},"mark":"text","encoding":{},"view":{"stroke":null}},
{"width":114,"height":109,"data":{"name":"flow"},"transform":[{"filter":"datum.panel === 'A2'"}],"title":{"text":["siRNA α1A-AR","staining: sc1477"],"dx":7,"offset":0,"lineHeight":19},"mark":{"type":"line","strokeWidth":1,"clip":true},"encoding":{"x":{"field":"fitc","type":"quantitative","scale":{"type":"symlog","constant":40,"domain":[-40,212000],"nice":false,"zero":false},"axis":{"values":[0,100,1000,10000,100000],"labelExpr":"datum.value == 0 ? '0' : datum.value == 100 ? '10²' : datum.value == 1000 ? '10³' : datum.value == 10000 ? '10⁴' : '10⁵'","title":"FITC-A"}},"y":{"field":"pct","type":"quantitative","scale":{"domain":[-4,102],"nice":false,"zero":false},"axis":{"values":[0,20,40,60,80,100],"title":"% of Max"}},"color":{"field":"trace","type":"nominal","scale":{"domain":["siRNA","control"],"range":["#e03232","#3232c8"]},"legend":null}}},
{"width":46,"height":109,"data":{"values":[]},"mark":"text","encoding":{},"view":{"stroke":null}},
{"width":116,"height":109,"data":{"name":"flow"},"transform":[{"filter":"datum.panel === 'A3'"}],"title":{"text":["siRNA α1B-AR","staining: ab169523"],"dx":3,"offset":0,"lineHeight":19},"mark":{"type":"line","strokeWidth":1,"clip":true},"encoding":{"x":{"field":"fitc","type":"quantitative","scale":{"type":"symlog","constant":40,"domain":[-40,212000],"nice":false,"zero":false},"axis":{"values":[0,100,1000,10000,100000],"labelExpr":"datum.value == 0 ? '0' : datum.value == 100 ? '10²' : datum.value == 1000 ? '10³' : datum.value == 10000 ? '10⁴' : '10⁵'","title":"FITC-A"}},"y":{"field":"pct","type":"quantitative","scale":{"domain":[-4,102],"nice":false,"zero":false},"axis":{"values":[0,20,40,60,80,100],"title":"% of Max"}},"color":{"field":"trace","type":"nominal","scale":{"domain":["siRNA","control"],"range":["#e03232","#3232c8"]},"legend":null}}},
{"width":43,"height":109,"data":{"values":[]},"mark":"text","encoding":{},"view":{"stroke":null}},
{"width":111,"height":109,"data":{"name":"flow"},"transform":[{"filter":"datum.panel === 'A4'"}],"title":{"text":["siRNA α1D-AR","staining: ab84402"],"dx":-1,"offset":0,"lineHeight":19},"mark":{"type":"line","strokeWidth":1,"clip":true},"encoding":{"x":{"field":"fitc","type":"quantitative","scale":{"type":"symlog","constant":40,"domain":[-40,212000],"nice":false,"zero":false},"axis":{"values":[0,100,1000,10000,100000],"labelExpr":"datum.value == 0 ? '0' : datum.value == 100 ? '10²' : datum.value == 1000 ? '10³' : datum.value == 10000 ? '10⁴' : '10⁵'","title":"FITC-A"}},"y":{"field":"pct","type":"quantitative","scale":{"domain":[-4,102],"nice":false,"zero":false},"axis":{"values":[0,20,40,60,80,100],"title":"% of Max"}},"color":{"field":"trace","type":"nominal","scale":{"domain":["siRNA","control"],"range":["#ec7070","#3232c8"]},"legend":null}}},
{"width":45,"height":109,"data":{"values":[]},"mark":"text","encoding":{},"view":{"stroke":null}},
{"width":113,"height":109,"data":{"name":"flow"},"transform":[{"filter":"datum.panel === 'A5'"}],"title":{"text":["siRNA α1D-AR","staining: sc27099"],"dx":1,"offset":0,"lineHeight":19},"mark":{"type":"line","strokeWidth":1,"clip":true},"encoding":{"x":{"field":"fitc","type":"quantitative","scale":{"type":"symlog","constant":40,"domain":[-40,212000],"nice":false,"zero":false},"axis":{"values":[0,100,1000,10000,100000],"labelExpr":"datum.value == 0 ? '0' : datum.value == 100 ? '10²' : datum.value == 1000 ? '10³' : datum.value == 10000 ? '10⁴' : '10⁵'","title":"FITC-A"}},"y":{"field":"pct","type":"quantitative","scale":{"domain":[-4,102],"nice":false,"zero":false},"axis":{"values":[0,20,40,60,80,100],"title":"% of Max"}},"color":{"field":"trace","type":"nominal","scale":{"domain":["siRNA","control"],"range":["#e03232","#3232c8"]},"legend":null}}}
]},
{"bounds": "flush", "spacing": 0, "resolve": {"scale": {"color": "independent"}}, "hconcat": [
{"width":139,"height":148,"data":{"values":[]},"mark":"text","encoding":{},"view":{"stroke":null},"title":{"text":"B","fontSize":29,"fontWeight":"bold","offset":25}},
{"width":113,"height":114,"data":{"name":"flow"},"transform":[{"filter":"datum.panel === 'B1'"}],"title":{"text":["siRNA α2A-AR","staining: sab4500548"],"dx":4,"offset":2,"lineHeight":15},"mark":{"type":"line","strokeWidth":1,"clip":true},"encoding":{"x":{"field":"fitc","type":"quantitative","scale":{"type":"symlog","constant":40,"domain":[-40,212000],"nice":false,"zero":false},"axis":{"values":[0,100,1000,10000,100000],"labelExpr":"datum.value == 0 ? '0' : datum.value == 100 ? '10²' : datum.value == 1000 ? '10³' : datum.value == 10000 ? '10⁴' : '10⁵'","title":"FITC-A"}},"y":{"field":"pct","type":"quantitative","scale":{"domain":[-4,102],"nice":false,"zero":false},"axis":{"values":[0,20,40,60,80,100],"title":"% of Max"}},"color":{"field":"trace","type":"nominal","scale":{"domain":["siRNA","control"],"range":["#e03232","#3232c8"]},"legend":null}}},
{"width":99,"height":114,"data":{"values":[]},"mark":"text","encoding":{},"view":{"stroke":null}},
{"width":113,"height":114,"data":{"name":"flow"},"transform":[{"filter":"datum.panel === 'B2'"}],"title":{"text":["siRNA α2B-AR","staining: ab21768"],"dx":-1,"offset":2,"lineHeight":15},"mark":{"type":"line","strokeWidth":1,"clip":true},"encoding":{"x":{"field":"fitc","type":"quantitative","scale":{"type":"symlog","constant":40,"domain":[-40,212000],"nice":false,"zero":false},"axis":{"values":[0,100,1000,10000,100000],"labelExpr":"datum.value == 0 ? '0' : datum.value == 100 ? '10²' : datum.value == 1000 ? '10³' : datum.value == 10000 ? '10⁴' : '10⁵'","title":"FITC-A"}},"y":{"field":"pct","type":"quantitative","scale":{"domain":[-4,102],"nice":false,"zero":false},"axis":{"values":[0,20,40,60,80,100],"title":"% of Max"}},"color":{"field":"trace","type":"nominal","scale":{"domain":["siRNA","control"],"range":["#e03232","#3232c8"]},"legend":null}}},
{"width":96,"height":114,"data":{"values":[]},"mark":"text","encoding":{},"view":{"stroke":null}},
{"width":113,"height":114,"data":{"name":"flow"},"transform":[{"filter":"datum.panel === 'B3'"}],"title":{"text":["siRNA α2C-AR","staining: ab167433"],"dx":4,"offset":2,"lineHeight":15},"mark":{"type":"line","strokeWidth":1,"clip":true},"encoding":{"x":{"field":"fitc","type":"quantitative","scale":{"type":"symlog","constant":40,"domain":[-40,212000],"nice":false,"zero":false},"axis":{"values":[0,100,1000,10000,100000],"labelExpr":"datum.value == 0 ? '0' : datum.value == 100 ? '10²' : datum.value == 1000 ? '10³' : datum.value == 10000 ? '10⁴' : '10⁵'","title":"FITC-A"}},"y":{"field":"pct","type":"quantitative","scale":{"domain":[-4,102],"nice":false,"zero":false},"axis":{"values":[0,20,40,60,80,100],"title":"% of Max"}},"color":{"field":"trace","type":"nominal","scale":{"domain":["siRNA","control"],"range":["#e03232","#3232c8"]},"legend":null}}}
]},
{"bounds": "flush", "spacing": 0, "resolve": {"scale": {"color": "independent"}}, "hconcat": [
{"width":54,"height":112,"data":{"values":[]},"mark":"text","encoding":{},"view":{"stroke":null},"title":{"text":"C","fontSize":29,"fontWeight":"bold","offset":21}},
{"width":133,"height":112,"data":{"name":"flow"},"transform":[{"filter":"datum.panel === 'C1'"}],"title":{"text":["siRNA AVPR1A","staining: Bs-11598R"],"dx":18,"offset":4,"lineHeight":15},"mark":{"type":"line","strokeWidth":1,"clip":true},"encoding":{"x":{"field":"fitc","type":"quantitative","scale":{"type":"symlog","constant":40,"domain":[-200,0,100,1000,10000,100000,200000],"range":[0,27,42,81,106,128,133],"nice":false,"zero":false},"axis":{"values":[0,100,1000,10000,100000],"labelExpr":"datum.value == 0 ? '0' : datum.value == 100 ? '10²' : datum.value == 1000 ? '10³' : datum.value == 10000 ? '10⁴' : '10⁵'","title":"FITC-A"}},"y":{"field":"pct","type":"quantitative","scale":{"domain":[-4,102],"nice":false,"zero":false},"axis":{"values":[0,20,40,60,80,100],"title":"% of Max"}},"color":{"field":"trace","type":"nominal","scale":{"domain":["siRNA","control"],"range":["#e03232","#3232c8"]},"legend":null}}},
{"width":79,"height":112,"data":{"values":[]},"mark":"text","encoding":{},"view":{"stroke":null}},
{"width":115,"height":112,"data":{"name":"flow"},"transform":[{"filter":"datum.panel === 'C2'"}],"title":{"text":["siRNA ACKR3","staining: mab42273"],"dx":2,"offset":4,"lineHeight":15},"mark":{"type":"line","strokeWidth":1,"clip":true},"encoding":{"x":{"field":"fitc","type":"quantitative","scale":{"type":"symlog","constant":40,"domain":[-40,212000],"nice":false,"zero":false},"axis":{"values":[0,100,1000,10000,100000],"labelExpr":"datum.value == 0 ? '0' : datum.value == 100 ? '10²' : datum.value == 1000 ? '10³' : datum.value == 10000 ? '10⁴' : '10⁵'","title":"FITC-A"}},"y":{"field":"pct","type":"quantitative","scale":{"domain":[-4,102],"nice":false,"zero":false},"axis":{"values":[0,20,40,60,80,100],"title":"% of Max"}},"color":{"field":"trace","type":"nominal","scale":{"domain":["siRNA","control"],"range":["#e03232","#3232c8"]},"legend":null}}},
{"width":76,"height":112,"data":{"values":[]},"mark":"text","encoding":{},"view":{"stroke":null}},
{"width":115,"height":112,"data":{"name":"flow"},"transform":[{"filter":"datum.panel === 'C3'"}],"title":{"text":["siRNA ACKR3","staining: LS-B1815"],"dx":4,"offset":4,"lineHeight":15},"mark":{"type":"line","strokeWidth":1,"clip":true},"encoding":{"x":{"field":"fitc","type":"quantitative","scale":{"type":"symlog","constant":40,"domain":[-40,212000],"nice":false,"zero":false},"axis":{"values":[0,100,1000,10000,100000],"labelExpr":"datum.value == 0 ? '0' : datum.value == 100 ? '10²' : datum.value == 1000 ? '10³' : datum.value == 10000 ? '10⁴' : '10⁵'","title":"FITC-A"}},"y":{"field":"pct","type":"quantitative","scale":{"domain":[-4,102],"nice":false,"zero":false},"axis":{"values":[0,20,40,60,80,100],"title":"% of Max"}},"color":{"field":"trace","type":"nominal","scale":{"domain":["siRNA","control"],"range":["#e03232","#3232c8"]},"legend":null}}},
{"width":73,"height":112,"data":{"values":[]},"mark":"text","encoding":{},"view":{"stroke":null}},
{"width":117,"height":112,"data":{"name":"flow"},"transform":[{"filter":"datum.panel === 'C4'"}],"title":{"text":["siRNA ACKR3","staining: ab38089"],"dx":3,"offset":4,"lineHeight":15},"mark":{"type":"line","strokeWidth":1,"clip":true},"encoding":{"x":{"field":"fitc","type":"quantitative","scale":{"type":"symlog","constant":40,"domain":[-40,212000],"nice":false,"zero":false},"axis":{"values":[0,100,1000,10000,100000],"labelExpr":"datum.value == 0 ? '0' : datum.value == 100 ? '10²' : datum.value == 1000 ? '10³' : datum.value == 10000 ? '10⁴' : '10⁵'","title":"FITC-A"}},"y":{"field":"pct","type":"quantitative","scale":{"domain":[-4,102],"nice":false,"zero":false},"axis":{"values":[0,20,40,60,80,100],"title":"% of Max"}},"color":{"field":"trace","type":"nominal","scale":{"domain":["siRNA","control"],"range":["#e03232","#3232c8"]},"legend":null}}}
]}
],
"config": {
  "font": "Liberation Sans",
  "view": {"stroke": "#444", "strokeWidth": 1},
  "axis": {"grid": false, "domainColor": "#444", "tickColor": "#444", "labelColor": "#111", "titleColor": "#111", "labelFontSize": 8.5, "titleFontSize": 8, "titleFontWeight": "normal", "tickSize": 3, "labelPadding": 2, "titlePadding": 2, "labelFont": "Liberation Sans", "titleFont": "Liberation Sans", "labelOverlap": false, "labelFlush": false},
  "axisX": {"labelFontSize": 10, "titlePadding": 1},
  "title": {"font": "Liberation Sans", "fontSize": 13.5, "fontWeight": "normal", "color": "#000", "anchor": "start", "frame": "group"}
}
}
